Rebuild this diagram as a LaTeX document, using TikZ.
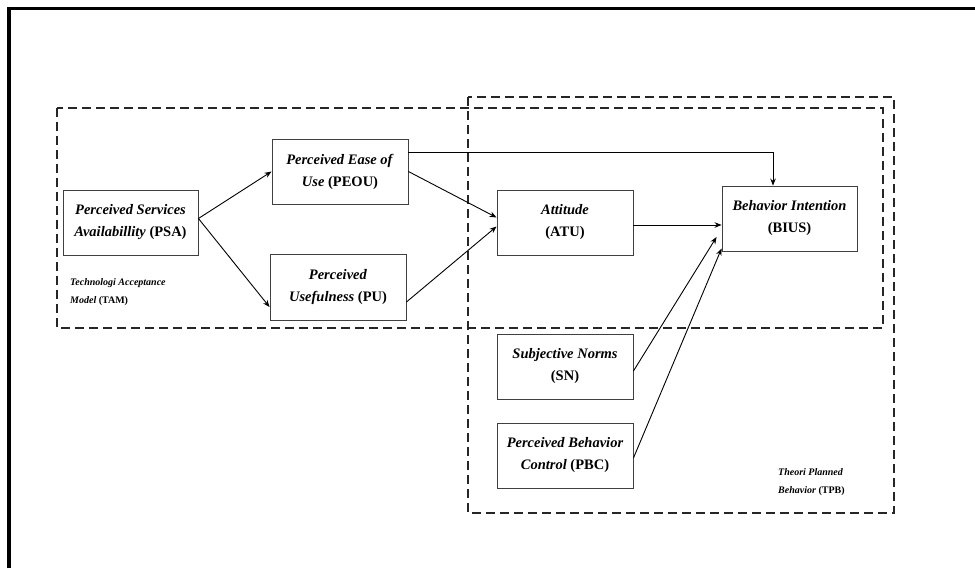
\documentclass[tikz,border=0pt]{standalone}
\usepackage{fontspec}
\setmainfont{Liberation Serif}
\usetikzlibrary{arrows.meta,positioning}

\begin{document}
\begin{tikzpicture}[x=1pt,y=-1pt]
\tikzset{
  varbox/.style={rectangle,draw=black!75,line width=0.9pt,minimum width=136pt,minimum height=65pt,
    align=center,inner sep=2pt,font=\fontsize{14.5}{22}\selectfont\bfseries},
  modelbox/.style={draw=black!85,line width=1.2pt,dash pattern=on 9pt off 5pt},
  modellabel/.style={anchor=west,align=left,inner sep=0pt,font=\fontsize{10}{18}\selectfont\bfseries},
  directed/.style={-{Stealth[length=7pt,width=5.5pt]},line width=0.9pt}
}
\useasboundingbox (0,0) rectangle (975,568);
\draw[line width=3.5pt] (9,568) -- (9,8.5) -- (975,8.5);
\draw[modelbox] (468,97) rectangle (894,513);
\draw[modelbox] (57,108) rectangle (883,328);
\node[varbox,minimum width=135pt] (n_PSA) at (130.5,222.5) {\textit{Perceived Services}\\\textit{Availabillity} (PSA)};
\node[varbox] (n_PEOU) at (340,171.5) {\textit{Perceived Ease of}\\\textit{Use} (PEOU)};
\node[varbox,minimum height=66pt] (n_PU) at (338,287) {\textit{Perceived}\\\textit{Usefulness} (PU)};
\node[varbox] (n_ATU) at (565,222.5) {\textit{Attitude}\\(ATU)};
\node[varbox,minimum width=135pt] (n_BIUS) at (789.5,218.5) {\textit{Behavior Intention}\\(BIUS)};
\node[varbox] (n_SN) at (565,366.5) {\textit{Subjective Norms}\\(SN)};
\node[varbox] (n_PBC) at (565,455.5) {\textit{Perceived Behavior}\\\textit{Control} (PBC)};
\node[modellabel] (l_TAM) at (70,292.5) {\textit{Technologi Acceptance}\\\textit{Model} (TAM)};
\node[modellabel] (l_TPB) at (778,482) {\textit{Theori Planned}\\\textit{Behavior} (TPB)};
\draw[directed] ([yshift=4pt]n_PSA.east) -- (n_PEOU.west);
\draw[directed] ([yshift=4pt]n_PSA.east) -- ([yshift=-20pt]n_PU.west);
\draw[directed] (n_PEOU.east) -- ([yshift=5pt]n_ATU.west);
\draw[directed] ([yshift=-15pt]n_PU.east) -- ([yshift=-4pt]n_ATU.west);
\draw[directed] ([yshift=19.5pt]n_PEOU.east) -| ([xshift=-16.5pt]n_BIUS.north);
\draw[directed] ([yshift=-2.5pt]n_ATU.east) -- ([yshift=-6.5pt]n_BIUS.west);
\draw[directed] ([yshift=-4.5pt]n_SN.east) -- ([xshift=-5pt,yshift=-18.5pt]n_BIUS.west);
\draw[directed] ([yshift=-2.5pt]n_PBC.east) -- ([yshift=-30pt]n_BIUS.west);
\end{tikzpicture}
\end{document}
